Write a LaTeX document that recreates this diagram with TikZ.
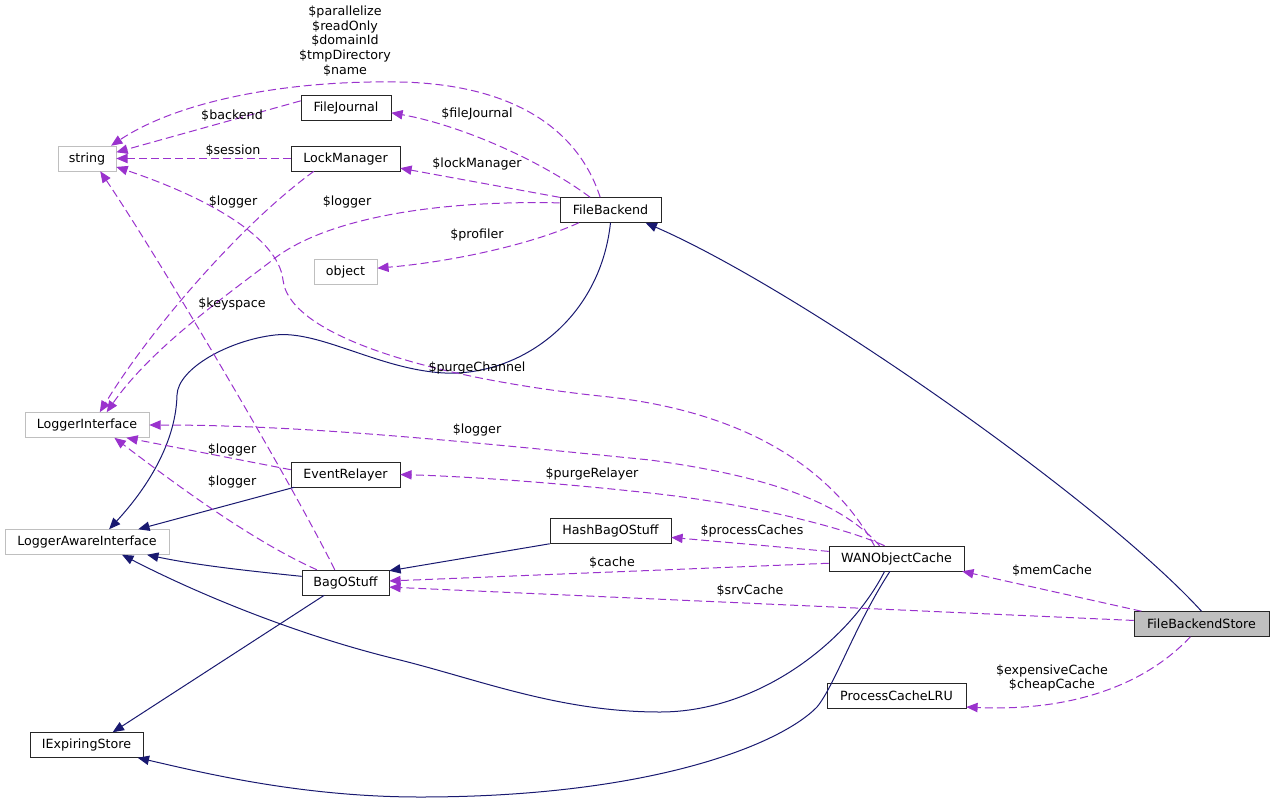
\documentclass[tikz,border=0pt]{standalone}
\usepackage{fontspec}
\setmainfont{DejaVu Sans}
\usetikzlibrary{arrows.meta}
\definecolor{edgeblue}{RGB}{25,25,112}
\definecolor{edgepurple}{RGB}{154,50,205}
\definecolor{extgray}{RGB}{191,191,191}
\tikzset{
  cls/.style={draw=black!85, fill=white, rectangle, minimum height=18.75pt, inner sep=0pt, font=\fontsize{9.5}{11}\selectfont},
  extcls/.style={cls, draw=extgray},
  curcls/.style={cls, fill=extgray},
  lbl/.style={inner sep=0pt, font=\fontsize{9.5}{11}\selectfont, align=center},
  inherit/.style={draw=edgeblue, line width=0.75pt, -{Triangle[length=8.5pt,width=7pt]}},
  usage/.style={draw=edgepurple, line width=0.75pt, dash pattern=on 6pt off 3pt, -{Triangle[length=8.5pt,width=7pt]}}
}
\begin{document}
\begin{tikzpicture}[x=0.75pt, y=-0.75pt]
  \useasboundingbox (0,0) rectangle (1275,804);
  \node[extcls, minimum width=43.5pt] (string) at (87,158.5) {string};
  \node[cls, minimum width=67.5pt] (FileJournal) at (346,108) {FileJournal};
  \node[cls, minimum width=81.75pt] (LockManager) at (345.5,158.5) {LockManager};
  \node[extcls, minimum width=47.25pt] (object) at (345.5,271.5) {object};
  \node[cls, minimum width=75.75pt] (FileBackend) at (610.5,210) {FileBackend};
  \node[extcls, minimum width=93pt] (LoggerInterface) at (87,425) {LoggerInterface};
  \node[cls, minimum width=81.75pt] (EventRelayer) at (345.5,474.5) {EventRelayer};
  \node[extcls, minimum width=123pt] (LoggerAwareInterface) at (87,542) {LoggerAwareInterface};
  \node[cls, minimum width=65.25pt] (BagOStuff) at (345.5,582.5) {BagOStuff};
  \node[cls, minimum width=84.75pt] (IExpiringStore) at (86.5,745) {IExpiringStore};
  \node[cls, minimum width=90.75pt] (HashBagOStuff) at (610.5,531) {HashBagOStuff};
  \node[cls, minimum width=101.25pt] (WANObjectCache) at (896.5,558.5) {WANObjectCache};
  \node[curcls, minimum width=101.25pt] (FileBackendStore) at (1201.5,624) {FileBackendStore};
  \node[cls, minimum width=104.25pt] (ProcessCacheLRU) at (896.5,696) {ProcessCacheLRU};

  \begin{scope}[inherit]
    \draw (FileBackendStore.north) .. controls (1100,500) and (800,290) .. (FileBackend.-20);
    \draw (FileBackend.south) .. controls (600,320) and (520,376) .. (445,373)
      .. controls (380,370) and (320,330) .. (275,335)
      .. controls (230,340) and (178,368) .. (177,395)
      .. controls (176,440) and (150,485) .. (LoggerAwareInterface.30);
    \draw (EventRelayer.-166) -- (LoggerAwareInterface.14);
    \draw (BagOStuff.172) .. controls (260,572) and (200,566) .. (LoggerAwareInterface.-12);
    \draw (WANObjectCache.-133) .. controls (850,640) and (760,712) .. (660,712)
      .. controls (560,712) and (480,680) .. (400,660)
      .. controls (300,636) and (200,595) .. (LoggerAwareInterface.-20);
    \draw (HashBagOStuff.south west) -- (BagOStuff.15);
    \draw (BagOStuff.-149) -- (IExpiringStore.26);
    \draw (WANObjectCache.-117) .. controls (855,625) and (835,685) .. (817,707)
      .. controls (780,745) and (650,797) .. (420,797)
      .. controls (300,797) and (200,772) .. (IExpiringStore.-14);
  \end{scope}

  \begin{scope}[usage]
    \draw (FileBackend.129) .. controls (575,120) and (500,84) .. (400,82)
      .. controls (290,80) and (180,100) .. (string.28);
    \draw (FileJournal.171) -- (string.12);
    \draw (LockManager.west) -- (string.east);
    \draw (FileBackend.148) .. controls (540,160) and (460,125) .. (FileJournal.-6);
    \draw (FileBackend.166) -- (LockManager.-10);
    \draw (LockManager.-158) .. controls (240,225) and (150,330) .. (LoggerInterface.45);
    \draw (FileBackend.172) .. controls (430,200) and (320,220) .. (270,262)
      .. controls (220,300) and (150,350) .. (LoggerInterface.33);
    \draw (FileBackend.-158) .. controls (530,245) and (450,262) .. (object.6);
    \draw (BagOStuff.130) .. controls (290,480) and (160,260) .. (string.-44);
    \draw (WANObjectCache.150) .. controls (830,465) and (740,410) .. (600,396)
      .. controls (450,380) and (290,340) .. (283,280)
      .. controls (278,235) and (200,195) .. (string.-16);
    \draw (WANObjectCache.143) .. controls (840,500) and (760,475) .. (650,460)
      .. controls (450,440) and (300,425) .. (LoggerInterface.east);
    \draw (EventRelayer.175) -- (LoggerInterface.-18);
    \draw (BagOStuff.156) .. controls (250,540) and (170,480) .. (LoggerInterface.-25);
    \draw (WANObjectCache.133) .. controls (850,530) and (760,505) .. (650,493)
      .. controls (530,480) and (450,476) .. (EventRelayer.east);
    \draw (WANObjectCache.174) -- (HashBagOStuff.-6);
    \draw (WANObjectCache.-176) -- (BagOStuff.2);
    \draw (FileBackendStore.177) -- (BagOStuff.-6);
    \draw (FileBackendStore.168) -- (WANObjectCache.-11);
    \draw (FileBackendStore.-131) .. controls (1150,680) and (1080,712) .. (ProcessCacheLRU.-9);
  \end{scope}

  \node[lbl] (lStringFields) at (345,41) {\$parallelize\\\$readOnly\\\$domainId\\\$tmpDirectory\\\$name};
  \node[lbl] (lBackend) at (232,116) {\$backend};
  \node[lbl] (lSession) at (233,151) {\$session};
  \node[lbl] (lFileJournal) at (477,114) {\$fileJournal};
  \node[lbl] (lLockManager) at (477,164) {\$lockManager};
  \node[lbl] (lLoggerLock) at (233,202) {\$logger};
  \node[lbl] (lLoggerBackend) at (347,202) {\$logger};
  \node[lbl] (lProfiler) at (477,235) {\$profiler};
  \node[lbl] (lKeyspace) at (232,304) {\$keyspace};
  \node[lbl] (lPurgeChannel) at (477,368) {\$purgeChannel};
  \node[lbl] (lLoggerWan) at (477,430) {\$logger};
  \node[lbl] (lLoggerRelayer) at (232,450) {\$logger};
  \node[lbl] (lPurgeRelayer) at (592,474) {\$purgeRelayer};
  \node[lbl] (lLoggerBag) at (232,482) {\$logger};
  \node[lbl] (lProcessCaches) at (752,531) {\$processCaches};
  \node[lbl] (lCache) at (612,563) {\$cache};
  \node[lbl] (lMemCache) at (1052,571) {\$memCache};
  \node[lbl] (lSrvCache) at (750,591) {\$srvCache};
  \node[lbl] (lProcessCache) at (1052,678) {\$expensiveCache\\\$cheapCache};
\end{tikzpicture}
\end{document}
